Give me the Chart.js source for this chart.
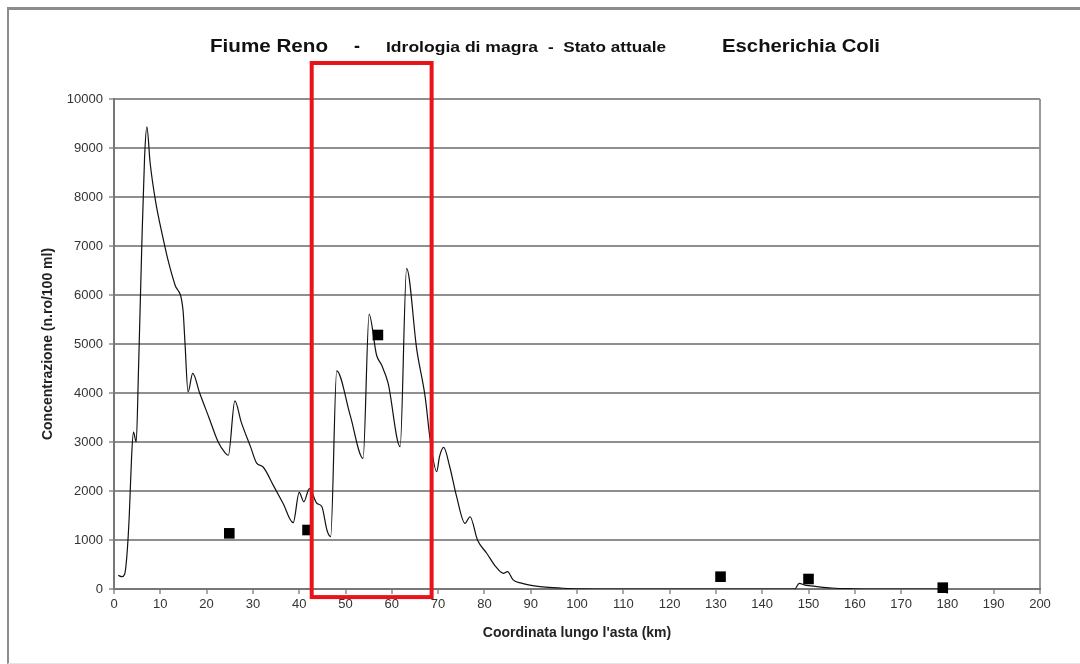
<!DOCTYPE html>
<html>
<head>
<meta charset="utf-8">
<script src="https://cdn.jsdelivr.net/npm/chart.js@4/dist/chart.umd.min.js"></script>
<style>
  html, body { margin: 0; padding: 0; background: #fff; }
  #wrap { position: relative; width: 1080px; height: 664px; }
  #frame { position: absolute; left: 7px; top: 7px; right: 0; bottom: 0;
           border-left: 2px solid #8c8c8c; border-top: 3px solid #8c8c8c;
           border-bottom: 1px solid #e4e4e4; pointer-events: none; }
  canvas { position: absolute; left: 0; top: 0; }
</style>
</head>
<body>
<div id="wrap">
  <canvas id="c" width="1080" height="664"></canvas>
  <div id="frame"></div>
</div>
<script>
// ---- data ----
const kmLine = [0.9, 1.7, 2.3, 2.8, 3.3, 3.8, 4.2, 4.8, 5.3, 6.0, 6.6, 7.1, 7.8, 9.0, 10.5, 11.7, 13.2, 14.9, 15.3, 16.0,
  17.0, 18.5, 20.5, 22.5, 24.0, 24.7, 26.1, 27.5, 29.5, 30.8, 32.2, 34.5, 36.5, 38.7, 40.0, 41.0, 42.2, 43.8, 44.9, 46.0,
  46.8, 48.1, 51.0, 53.8, 55.1, 56.7, 57.8, 59.2, 61.8, 63.2, 65.4, 67.2, 68.3, 69.7, 70.3, 71.2, 72.5, 74.0, 75.8, 76.9,
  78.5, 80.5, 82.5, 84.1, 85.0, 86.2, 88.0, 89.8, 92.0, 94.8, 97.0, 100, 110, 147, 148, 149.2, 151.8, 155, 159.6, 165, 180];
const concLine = [280, 250, 300, 700, 1500, 2700, 3200, 3000, 4500, 7000, 8800, 9430, 8700, 7900, 7200, 6700, 6200, 5700, 5080, 4020,
  4400, 4000, 3500, 3000, 2780, 2730, 3840, 3400, 2900, 2570, 2490, 2100, 1750, 1353, 1970, 1780, 2050, 1750, 1680, 1200,
  1070, 4450, 3550, 2667, 5605, 4776, 4570, 4200, 2905, 6545, 4880, 3925, 3040, 2395, 2700, 2890, 2500, 1885, 1340, 1475,
  1000, 730, 450, 320, 355, 185, 120, 80, 50, 27, 15, 5, 0, 0, 115, 80, 50, 20, 5, 0, 0];
const kmMeasured = [24.9, 41.8, 57, 131, 150, 179];
const concMeasured = [1136, 1204, 5184, 251, 204, 27];
const highlightKm = [42.7, 68.6];
const highlightConc = [-165, 10735];
const titleParts = ['Fiume Reno', '-', 'Idrologia di magra', '-  Stato attuale', 'Escherichia Coli'];
const xAxisTitle = "Coordinata lungo l'asta (km)";
const yAxisTitle = 'Concentrazione (n.ro/100 ml)';

// ---- styling / layout (not data) ----
const titleStyle = [
  {x: 210, w: 118, size: 18},
  {x: 354, w: 6, size: 18},
  {x: 386, w: 152, size: 14},
  {x: 548, w: 118, size: 14},
  {x: 722, w: 158, size: 18}
];
const FONT = '"Liberation Sans", Arial, sans-serif';

const titlePlugin = {
  id: 'titleParts',
  afterDraw(chart) {
    const ctx = chart.ctx;
    ctx.save();
    ctx.fillStyle = '#111';
    ctx.textBaseline = 'alphabetic';
    titleParts.forEach((t, i) => {
      const s = titleStyle[i];
      ctx.font = 'bold ' + s.size + 'px ' + FONT;
      const mw = ctx.measureText(t).width;
      ctx.save();
      ctx.translate(s.x, 52);
      ctx.scale(s.w / mw, 1);
      ctx.fillText(t, 0, 0);
      ctx.restore();
    });
    ctx.restore();
  }
};

const boxPlugin = {
  id: 'highlightBox',
  afterDraw(chart) {
    const xs = chart.scales.x, ys = chart.scales.y;
    const x1 = xs.getPixelForValue(highlightKm[0]);
    const x2 = xs.getPixelForValue(highlightKm[1]);
    const y1 = ys.getPixelForValue(highlightConc[1]);
    const y2 = ys.getPixelForValue(highlightConc[0]);
    const ctx = chart.ctx;
    ctx.save();
    ctx.strokeStyle = '#e8141a';
    ctx.lineWidth = 4;
    ctx.strokeRect(x1, y1, x2 - x1, y2 - y1);
    ctx.restore();
  }
};

const lineData = kmLine.map((k, i) => ({x: k, y: concLine[i]}));
const measData = kmMeasured.map((k, i) => ({x: k, y: concMeasured[i]}));

new Chart(document.getElementById('c'), {
  type: 'scatter',
  data: {
    datasets: [
      {
        type: 'scatter',
        data: measData,
        pointStyle: 'rect',
        pointRadius: 7.5,
        backgroundColor: '#000',
        borderWidth: 0,
        clip: false,
        order: 0
      },
      {
        type: 'line',
        data: lineData,
        borderColor: '#111',
        borderWidth: 1.2,
        pointRadius: 0,
        fill: false,
        cubicInterpolationMode: 'monotone',
        order: 1
      }
    ]
  },
  options: {
    responsive: false,
    animation: false,
    devicePixelRatio: 1,
    layout: { padding: { top: 99, right: 40, bottom: 0, left: 0 } },
    plugins: { legend: { display: false }, tooltip: { enabled: false }, title: { display: false } },
    scales: {
      x: {
        type: 'linear',
        min: 0, max: 200,
        afterFit(s) { s.height = 75; },
        ticks: { stepSize: 10, color: '#333', padding: 3, maxRotation: 0, autoSkip: false,
                 callback: v => String(v),
                 font: { family: FONT, size: 13 } },
        grid: {
          drawOnChartArea: true,
          color: c => (c.tick && c.tick.value === 200) ? '#9a9a9a' : 'rgba(0,0,0,0)',
          lineWidth: 2,
          tickColor: '#555',
          tickLength: 5,
          tickWidth: 1
        },
        border: { color: '#777', width: 2 },
        title: { display: true, text: xAxisTitle, color: '#222',
                 font: { family: FONT, size: 14, weight: 'bold' }, padding: { top: 4, bottom: 22 } }
      },
      y: {
        min: 0, max: 10000,
        afterFit(s) { s.width = 114; },
        ticks: { stepSize: 1000, color: '#333', padding: 6, callback: v => String(v),
                 font: { family: FONT, size: 13 } },
        grid: { color: '#8f8f8f', lineWidth: 2, tickColor: '#555', tickLength: 5, tickWidth: 1 },
        border: { color: '#777', width: 2 },
        title: { display: true, text: yAxisTitle, color: '#222',
                 font: { family: FONT, size: 14, weight: 'bold' }, padding: { top: 40, bottom: 4 } }
      }
    }
  },
  plugins: [titlePlugin, boxPlugin]
});
</script>
</body>
</html>
